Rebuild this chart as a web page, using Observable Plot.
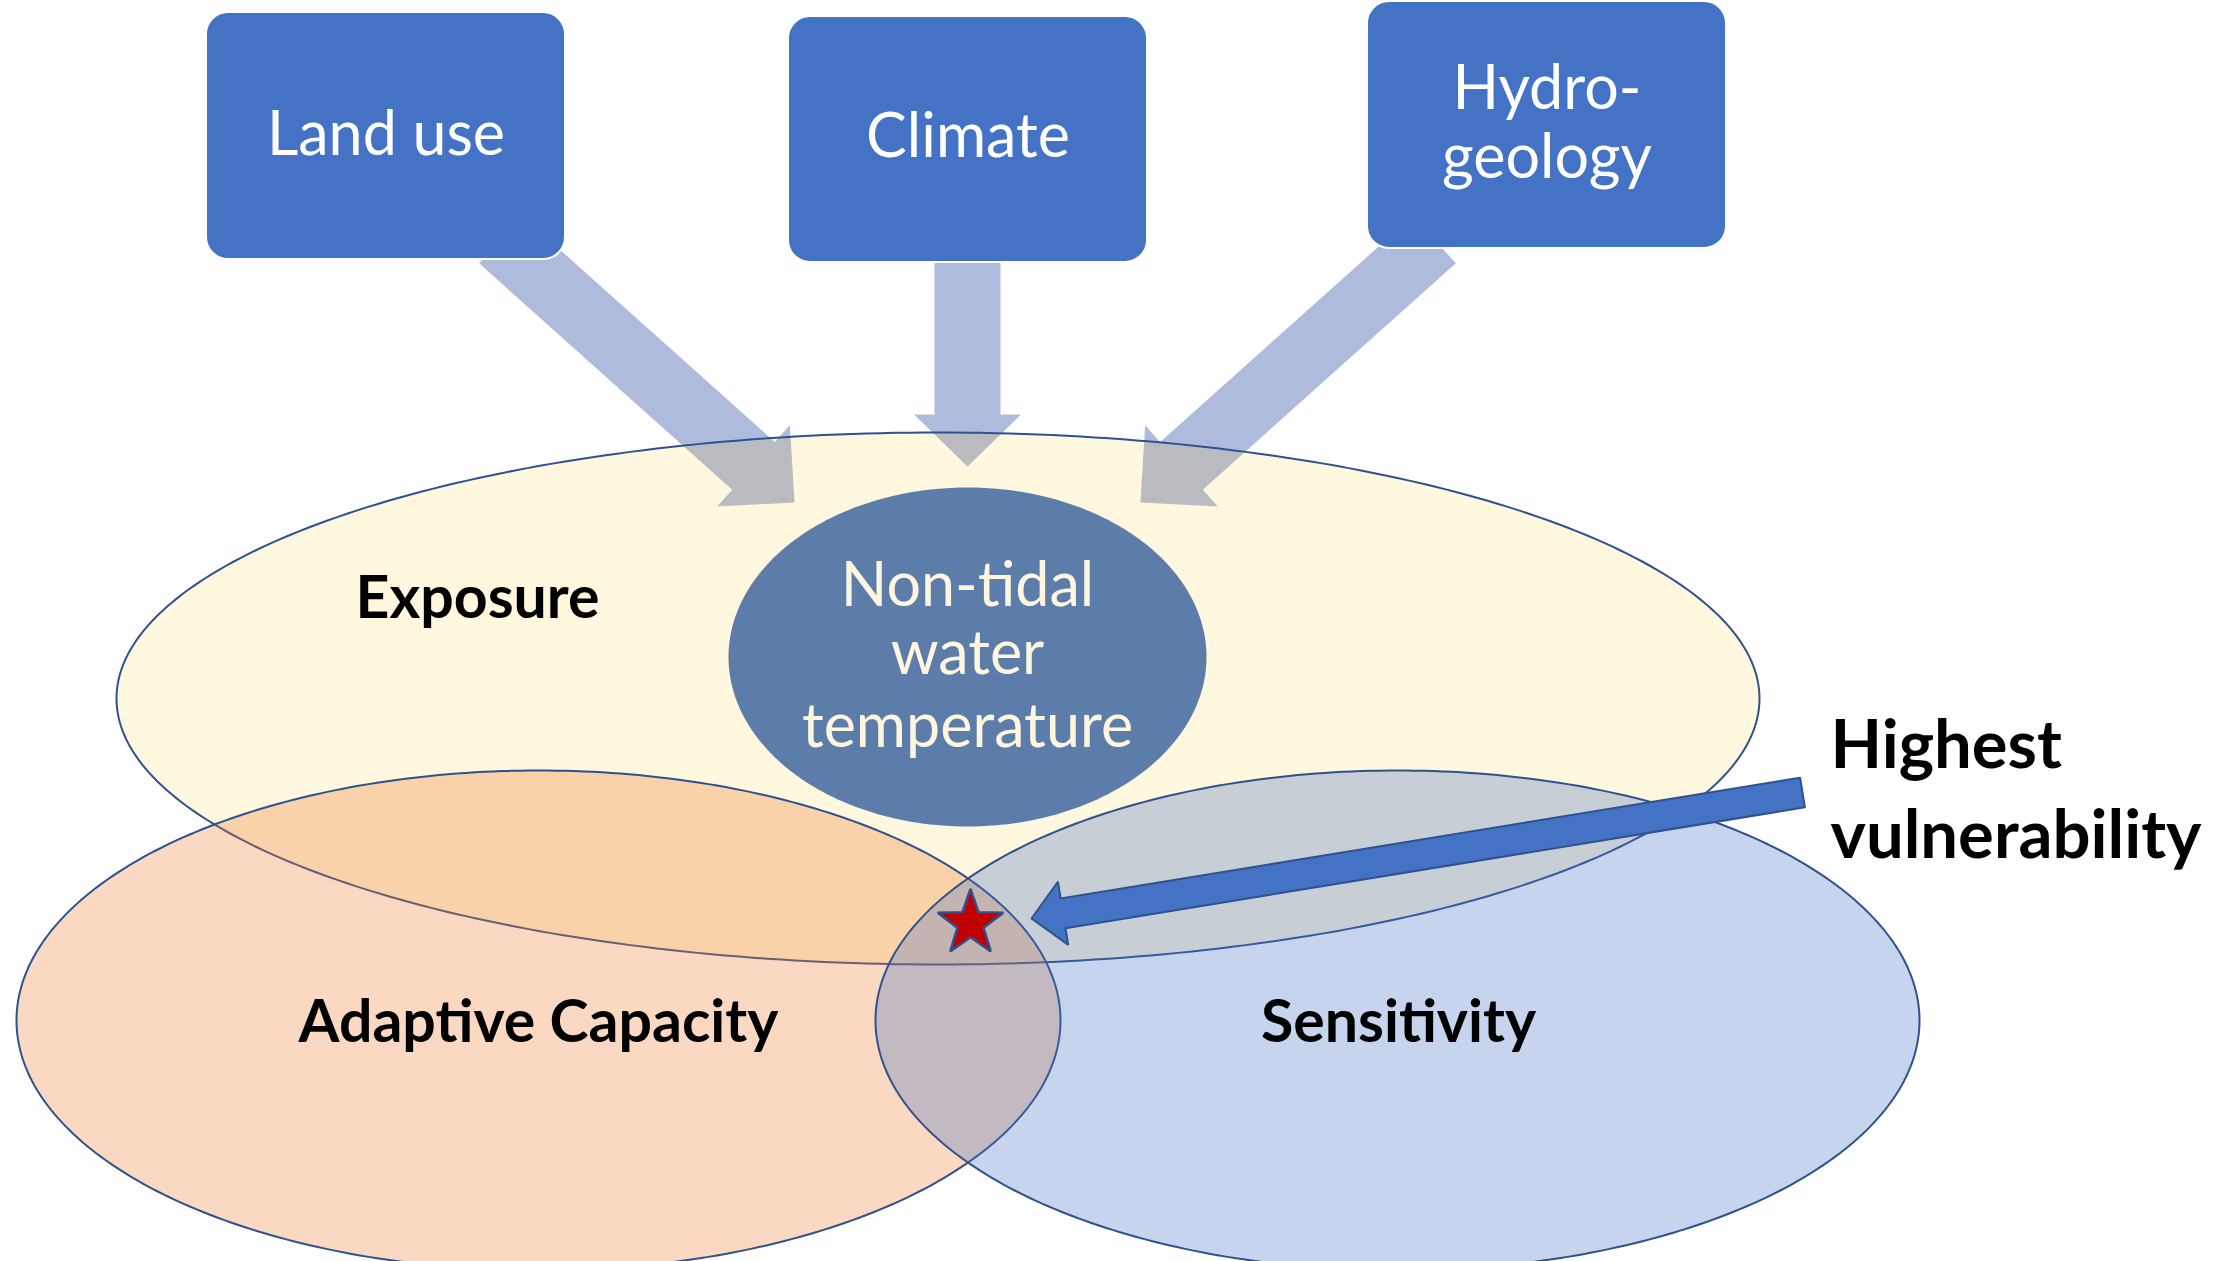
<!DOCTYPE html>
<html><head><meta charset="utf-8">
<script src="https://cdn.jsdelivr.net/npm/d3@7"></script>
<script src="https://cdn.jsdelivr.net/npm/@observablehq/plot@0.6"></script>
<style>html,body{margin:0;padding:0;background:#fff;overflow:hidden} svg{display:block;max-width:none!important}</style>
</head><body><div id="chart"></div>
<script>
const W = 2236, H = 1261;

// Driver boxes (top row)
const driverLines = ["Land use", "Climate", "Hydro-", "geology"];
const driverLineBox = [0, 1, 2, 2];
const driverLineBaseline = [154, 156, 108, 177];
const driverX1 = [206, 788, 1367];
const driverX2 = [565, 1147, 1726];
const driverY1 = [12, 16, 1];
const driverY2 = [259, 262, 248];

// Flow arrows from drivers to the central variable
const flowTailX = [500, 967, 1434];
const flowTailY = [239, 238, 239];
const flowTipX = [794, 967, 1140];
const flowTipY = [502, 466, 502];
const flowShaft = [64, 66, 64];
const flowHead = [109, 107, 109];
const flowHeadLen = [55, 52, 55];

// Vulnerability components (ellipses)
const componentNames = ["Exposure", "Adaptive Capacity", "Sensitivity"];
const componentCX = [937.5, 538, 1397];
const componentCY = [698, 1020, 1020];
const componentRX = [821.5, 522, 522];
const componentRY = [266, 250, 250];
const componentColors = ["#FFC000", "#ED7D31", "#4472C4"];
const componentOpacity = [0.13, 0.3, 0.3];
const componentLabelX = [477, 538, 1398];
const componentLabelBaseline = [617, 1041, 1041];

// Central variable
const coreLines = ["Non-tidal", "water", "temperature"];
const coreLineBaseline = [605, 673, 746];
const coreCX = 967, coreCY = 656.5, coreRX = 239, coreRY = 169.5;

// Highest vulnerability callout
const highlightLines = ["Highest", "vulnerability"];
const highlightBaseline = [767, 857];
const highlightX = 1830;
const calloutTail = [1802, 792];
const calloutTip = [1031, 918];
const starCenter = [970, 923];
const starR = 34.5;

// ---- geometry helpers ----
function ellipsePts(cx, cy, rx, ry, id) {
  return d3.range(0, 360, 1).map(a => {
    const t = a * Math.PI / 180;
    return {id, x: cx + rx * Math.cos(t), y: cy + ry * Math.sin(t)};
  });
}
function arrowPts(x0, y0, x1, y1, sw, hw, hl, id) {
  const dx = x1 - x0, dy = y1 - y0, L = Math.hypot(dx, dy);
  const ux = dx / L, uy = dy / L, nx = -uy, ny = ux;
  const bx = x1 - ux * hl, by = y1 - uy * hl;
  const P = (px, py, s) => ({id, x: px + nx * s, y: py + ny * s});
  return [P(x0, y0, sw / 2), P(bx, by, sw / 2), P(bx, by, hw / 2), {id, x: x1, y: y1},
          P(bx, by, -hw / 2), P(bx, by, -sw / 2), P(x0, y0, -sw / 2)];
}
function starPts(cx, cy, R, ratio) {
  return d3.range(10).map(i => {
    const r = i % 2 ? R * ratio : R;
    const a = -Math.PI / 2 + i * Math.PI / 5;
    return {x: cx + r * Math.cos(a), y: cy + r * Math.sin(a)};
  });
}

const flows = flowTailX.flatMap((_, i) => arrowPts(flowTailX[i], flowTailY[i], flowTipX[i], flowTipY[i], flowShaft[i], flowHead[i], flowHeadLen[i], i));
const boxes = driverX1.map((_, i) => ({x1: driverX1[i], x2: driverX2[i], y1: driverY1[i], y2: driverY2[i]}));
const boxText = driverLines.map((t, i) => ({t, x: (driverX1[driverLineBox[i]] + driverX2[driverLineBox[i]]) / 2, y: driverLineBaseline[i]}));
const coreText = coreLines.map((t, i) => ({t, x: coreCX, y: coreLineBaseline[i]}));
const compText = componentNames.map((t, i) => ({t, x: componentLabelX[i], y: componentLabelBaseline[i]}));
const hiText = highlightLines.map((t, i) => ({t, x: highlightX, y: highlightBaseline[i]}));
const callout = arrowPts(calloutTail[0], calloutTail[1], calloutTip[0], calloutTip[1], 30, 64, 32, 0);
const star = starPts(starCenter[0], starCenter[1], starR, 0.4);

const ellipseMark = i => Plot.line(ellipsePts(componentCX[i], componentCY[i], componentRX[i], componentRY[i], i), {
  x: "x", y: "y", curve: "linear-closed", fill: componentColors[i], fillOpacity: componentOpacity[i],
  stroke: "#2F528F", strokeWidth: 2
});

const FONT = "Lato, Carlito, Calibri, 'Open Sans', sans-serif";

const chart = Plot.plot({
  width: W, height: H, margin: 0,
  x: {domain: [0, W], axis: null},
  y: {domain: [0, H], reverse: true, axis: null},
  style: {background: "white", overflow: "hidden"},
  marks: [
    Plot.line(flows, {x: "x", y: "y", z: "id", curve: "linear-closed", fill: "#AFBBDD", stroke: "none"}),
    Plot.line(ellipsePts(coreCX, coreCY, coreRX, coreRY, 0), {x: "x", y: "y", curve: "linear-closed", fill: "#4472C4", stroke: "none"}),
    ellipseMark(0),
    ellipseMark(1),
    ellipseMark(2),
    Plot.rect(boxes, {x1: "x1", x2: "x2", y1: "y1", y2: "y2", fill: "#4472C4", stroke: "white", strokeWidth: 2, rx: 22, ry: 22}),
    Plot.line(callout, {x: "x", y: "y", curve: "linear-closed", fill: "#4472C4", stroke: "#2F528F", strokeWidth: 2, strokeLinejoin: "miter"}),
    Plot.line(star, {x: "x", y: "y", curve: "linear-closed", fill: "#C00000", stroke: "#2F528F", strokeWidth: 2.5, strokeLinejoin: "miter"}),
    Plot.text(boxText, {x: "x", y: "y", text: "t", fill: "white", fontSize: 61, fontFamily: FONT, lineAnchor: "bottom", textAnchor: "middle"}),
    Plot.text(coreText, {x: "x", y: "y", text: "t", fill: "#FFF6E0", fontSize: 61, fontFamily: FONT, lineAnchor: "bottom", textAnchor: "middle"}),
    Plot.text(compText, {x: "x", y: "y", text: "t", fill: "black", fontSize: 59, fontWeight: "bold", fontFamily: FONT, lineAnchor: "bottom", textAnchor: "middle"}),
    Plot.text(hiText, {x: "x", y: "y", text: "t", fill: "black", fontSize: 67, fontWeight: "bold", fontFamily: FONT, lineAnchor: "bottom", textAnchor: "start"})
  ]
});
document.getElementById("chart").appendChild(chart);
</script></body></html>
